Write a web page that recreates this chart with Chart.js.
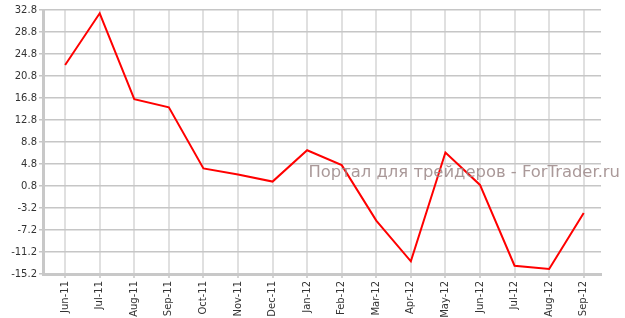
<!DOCTYPE html>
<html>
<head>
<meta charset="utf-8">
<script src="https://cdn.jsdelivr.net/npm/chart.js@4.4.1/dist/chart.umd.min.js"></script>
<style>
  html, body { margin: 0; padding: 0; background: #fff; }
  #wrap { width: 625px; height: 318px; position: relative; }
</style>
</head>
<body>
<div id="wrap"><canvas id="line-chart"></canvas></div>
<script>
const months = ["Jun-11", "Jul-11", "Aug-11", "Sep-11", "Oct-11", "Nov-11", "Dec-11", "Jan-12",
  "Feb-12", "Mar-12", "Apr-12", "May-12", "Jun-12", "Jul-12", "Aug-12", "Sep-12"];
const values = [22.8, 32.2, 16.6, 15.1, 4.0, 2.9, 1.6, 7.3, 4.6, -5.5, -12.9, 6.9, 1.0, -13.7, -14.3, -4.1];
const yTicks = [-15.2, -11.2, -7.2, -3.2, 0.8, 4.8, 8.8, 12.8, 16.8, 20.8, 24.8, 28.8, 32.8];
const watermark = "Портал для трейдеров - ForTrader.ru";

// watermark text over the plot, like the original site image
const watermarkPlugin = {
  id: "watermark",
  afterDatasetsDraw(chart) {
    const ctx = chart.ctx;
    ctx.save();
    ctx.font = "16.4px 'DejaVu Sans'";
    ctx.fillStyle = "rgba(155, 135, 135, 0.85)";
    ctx.textAlign = "right";
    ctx.textBaseline = "alphabetic";
    ctx.fillText(watermark, 620, 177);
    ctx.restore();
  },
};

const config_line = {
  type: "line",
  data: {
    datasets: [
      {
        data: values.map((v, i) => ({ x: i, y: v })),
        borderColor: "rgb(255, 0, 0)",
        backgroundColor: "rgb(255, 0, 0)",
        borderWidth: 2,
        pointRadius: 0,
        tension: 0,
      },
    ],
  },
  options: {
    responsive: true,
    maintainAspectRatio: false,
    animation: false,
    layout: { padding: { top: 10, right: 24, left: 0, bottom: 0 } },
    plugins: {
      legend: { display: false },
      tooltip: { enabled: false },
    },
    scales: {
      x: {
        type: "linear",
        min: -0.64,
        max: 15.5,
        afterBuildTicks: (scale) => {
          scale.ticks = months.map((m, i) => ({ value: i }));
        },
        afterFit: (scale) => { scale.height = 44; },
        grid: { color: "#e0e0e0", lineWidth: 2, tickLength: 4, tickColor: "#d4d4d4" },
        border: { color: "#c8c8c8", width: 3 },
        ticks: {
          autoSkip: false,
          maxRotation: 90,
          minRotation: 90,
          padding: 3,
          color: "#333",
          font: { family: "'DejaVu Sans'", size: 10 },
          callback: (v) => months[v] || "",
        },
      },
      y: {
        min: -15.2,
        max: 32.8,
        afterBuildTicks: (scale) => {
          scale.ticks = yTicks.map((v) => ({ value: v }));
        },
        afterFit: (scale) => { scale.width = 43; },
        grid: { color: "#c6c6c6", lineWidth: 1.5, tickLength: 4, tickColor: "#c6c6c6" },
        border: { color: "#c8c8c8", width: 3 },
        ticks: {
          padding: 2,
          color: "#333",
          font: { family: "'DejaVu Sans'", size: 10 },
          callback: (v) => Number(v).toFixed(1),
        },
      },
    },
  },
  plugins: [watermarkPlugin],
};

var ctx_line = document.getElementById("line-chart").getContext("2d");
var lineChart = new Chart(ctx_line, config_line);
</script>
</body>
</html>
